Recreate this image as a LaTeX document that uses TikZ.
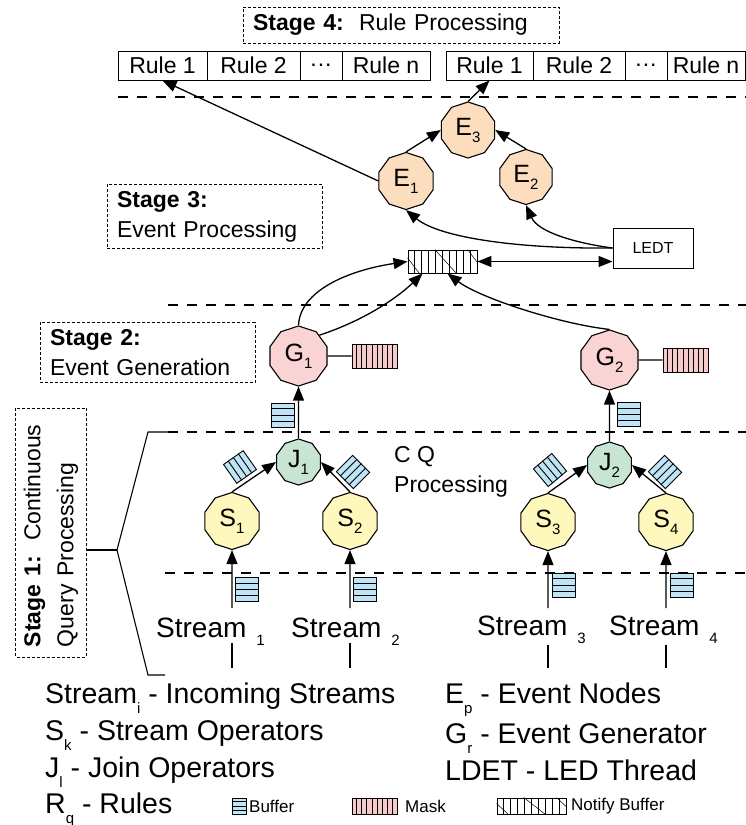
\documentclass[tikz,border=0pt]{standalone}
\usepackage{fontspec}
\setmainfont{Liberation Sans}
\usetikzlibrary{shapes.geometric,arrows.meta,calc}

\definecolor{evfill}{RGB}{252,222,190}
\definecolor{genfill}{RGB}{250,212,212}
\definecolor{joinfill}{RGB}{200,228,210}
\definecolor{strfill}{RGB}{255,248,188}
\definecolor{buffill}{RGB}{190,228,246}
\definecolor{maskfill}{RGB}{246,202,202}

\newcommand{\lowidx}[2][7pt]{\raisebox{-#1}{\fontsize{15pt}{15pt}\selectfont #2}}
\newcommand{\fsz}[2]{\fontsize{#1pt}{#2pt}\selectfont}

\tikzset{
	opnode/.style={regular polygon, regular polygon sides=10, regular polygon rotate=18, draw, line width=1.1pt, inner sep=0pt, minimum size=#1, font=\fsz{25}{25}},
	stagebox/.style={draw, dash pattern=on 3pt off 2pt, line width=1pt, align=left, inner xsep=10pt, inner ysep=7pt, font=\fsz{23}{30}},
	rulecell/.style={draw, line width=1pt, minimum height=29pt, inner sep=0pt, font=\fsz{23}{23}},
	sep/.style={dash pattern=on 10pt off 9pt, line width=1.1pt},
	flow/.style={->, line width=1.3pt},
	bufbox/.style={draw, fill=buffill, line width=0.9pt, minimum width=23pt, minimum height=24pt, inner sep=0pt},
	maskbox/.style={draw, fill=maskfill, line width=0.9pt, minimum width=45pt, minimum height=24pt, inner sep=0pt},
	notebox/.style={draw, line width=0.9pt, minimum width=69pt, minimum height=23pt, inner sep=0pt},
	lbl/.style={inner sep=0pt, anchor=base west},
}

\begin{document}
\begin{tikzpicture}[x=1pt, y=-1pt, >={Triangle[length=14pt, width=11pt]}]

	\useasboundingbox (0,0) rectangle (746,825);

	\node[stagebox, text width=296pt, minimum height=36pt] (st4) at (401,25) {\textbf{Stage 4:}\ \ Rule Processing};

	\node[rulecell, minimum width=89pt] (rl1) at (162.5,65.5) {Rule 1};
	\node[rulecell, minimum width=93pt] (rl2) at (253.5,65.5) {Rule 2};
	\node[rulecell, minimum width=42pt] (rl3) at (321,65.5) {.\kern1pt.\kern1pt.};
	\node[rulecell, minimum width=88pt] (rl4) at (386,65.5) {Rule n};
	\node[rulecell, minimum width=87pt] (rr1) at (489.5,65.5) {Rule 1};
	\node[rulecell, minimum width=92pt] (rr2) at (579,65.5) {Rule 2};
	\node[rulecell, minimum width=42pt] (rr3) at (646,65.5) {.\kern1pt.\kern1pt.};
	\node[rulecell, minimum width=78pt] (rr4) at (706,65.5) {Rule n};

	\draw[sep] (118,97) -- (746,97);
	\draw[sep] (168,305) -- (746,305);
	\draw[sep] (168,432) -- (746,432);
	\draw[sep] (165,573) -- (746,573);

	\node[stagebox, text width=195pt] (st3) at (214.5,216.5) {\textbf{Stage 3:}\\Event Processing};
	\node[stagebox, text width=195pt] (st2) at (147.5,352.5) {\textbf{Stage 2:}\\Event Generation};
	\node[stagebox, text width=229pt, rotate=90, inner ysep=8pt, font=\fsz{23}{33}] (st1) at (51,532.5) {\textbf{Stage 1:}\ \ Continuous\\Query Processing};

	\node[opnode=56pt, fill=evfill] (E3) at (468,130) {E\lowidx{3}};
	\node[opnode=57pt, fill=evfill] (E1) at (406,181) {E\lowidx{1}};
	\node[opnode=55pt, fill=evfill] (E2) at (526,177) {E\lowidx{2}};
	\node[opnode=60pt, fill=genfill] (G1) at (298.5,356) {G\lowidx{1}};
	\node[opnode=60pt, fill=genfill] (G2) at (609.5,360) {G\lowidx{2}};
	\node[opnode=46pt, fill=joinfill] (J1) at (298.5,462) {J\lowidx{1}};
	\node[opnode=46pt, fill=joinfill] (J2) at (609.5,465) {J\lowidx{2}};
	\node[opnode=57pt, fill=strfill] (S1) at (232,521) {S\lowidx{1}};
	\node[opnode=57pt, fill=strfill] (S2) at (350,521) {S\lowidx{2}};
	\node[opnode=57pt, fill=strfill] (S3) at (548,522) {S\lowidx{3}};
	\node[opnode=57pt, fill=strfill] (S4) at (666,522) {S\lowidx{4}};

	\node[draw, line width=1pt, minimum width=80pt, minimum height=40pt, font=\fsz{16}{16}] (ledt) at (653,248) {LEDT};
	\node[notebox] (nb) at (442.5,261.5) {};
	\node[maskbox] (mk1) at (374.5,356) {};
	\node[maskbox] (mk2) at (685.5,360) {};

	\node[bufbox] (bg1) at (282.5,415) {};
	\node[bufbox] (bg2) at (629,414.5) {};
	\node[bufbox, rotate=-55] (bj1) at (240,467) {};
	\node[bufbox, rotate=45] (bj2) at (353,472) {};
	\node[bufbox, rotate=-50] (bj3) at (550,470) {};
	\node[bufbox, rotate=45] (bj4) at (665,472) {};
	\node[bufbox] (bs1) at (247,589.5) {};
	\node[bufbox] (bs2) at (365,589.5) {};
	\node[bufbox] (bs3) at (563.5,585) {};
	\node[bufbox] (bs4) at (681.5,585) {};

	\node[bufbox, minimum width=14pt, minimum height=16pt] (lgb) at (239,806) {};
	\node[maskbox, minimum height=16pt] (lgm) at (374.5,806) {};
	\node[notebox, minimum height=16pt] (lgn) at (531.5,806) {};

	\foreach \b in {bg1,bg2,bj1,bj2,bj3,bj4,bs1,bs2,bs3,bs4,lgb}
		\foreach \f in {0.25,0.5,0.75}
			\draw[line width=0.9pt] ($(\b.north west)!\f!(\b.south west)$) -- ($(\b.north east)!\f!(\b.south east)$);
	\foreach \b in {mk1,mk2,lgm}
		\foreach \f in {1,...,8}
			\draw[line width=0.8pt] ($(\b.north west)!\f/9!(\b.north east)$) -- ($(\b.south west)!\f/9!(\b.south east)$);
	\foreach \b in {nb,lgn} {
		\foreach \f in {1,...,9}
			\draw[line width=0.8pt] ($(\b.north west)!\f/10!(\b.north east)$) -- ($(\b.south west)!\f/10!(\b.south east)$);
		\draw[line width=0.5pt] ($(\b.north west)!0.35!(\b.south west)$) -- ($(\b.south west)!0.17!(\b.south east)$);
		\draw[line width=0.5pt] ($(\b.north west)!0.39!(\b.north east)$) -- ($(\b.south west)!0.7!(\b.south east)$);
		\draw[line width=0.5pt] ($(\b.north west)!0.86!(\b.north east)$) -- ($(\b.north east)!0.55!(\b.south east)$);
	}

	\draw[flow] (E1.north) -- (E3.west);
	\draw[flow] (E2.north) -- (E3.east);
	\draw[flow] (E3.north) -- (rr1.south);
	\draw[flow] (E1.west) -- (rl1.south);
	\draw[flow] (ledt.west) .. controls (520,249) and (440,238) .. (E1.south);
	\draw[flow] (ledt.west) .. controls (575,243) and (538,232) .. (E2.south);
	\draw[flow, <->] (nb.east) -- (nb.east -| ledt.west);
	\draw[flow] (G1.north) .. controls (300,290) and (350,270) .. (nb.west);
	\draw[flow] (G1.north east) .. controls (360,322) and (395,300) .. ([xshift=-20pt]nb.south);
	\draw[flow] (G2.north) .. controls (560,324) and (480,298) .. ([xshift=5pt]nb.south);
	\draw[line width=1.1pt] (G1.east) -- (mk1.west);
	\draw[line width=1.1pt] (G2.east) -- (mk2.west);
	\draw[flow] (J1) -- (G1);
	\draw[flow] (J2) -- (G2);
	\draw[flow] (S1.north) -- (J1.west);
	\draw[flow] (S2.north) -- (J1.east);
	\draw[flow] (S3.north) -- (J2.west);
	\draw[flow] (S4.north) -- (J2.east);

	\node[align=left, anchor=west, inner sep=0pt, font=\fsz{23}{30}] (cq) at (394,472) {C Q\\Processing};

	\node[lbl, font=\fsz{28}{28}] (sm1) at (156,637) {Stream\hspace{10pt}\lowidx[8pt]{1}};
	\node[lbl, font=\fsz{28}{28}] (sm2) at (291,637) {Stream\hspace{10pt}\lowidx[8pt]{2}};
	\node[lbl, font=\fsz{28}{28}] (sm3) at (477,635) {Stream\hspace{10pt}\lowidx[8pt]{3}};
	\node[lbl, font=\fsz{28}{28}] (sm4) at (609,635) {Stream\hspace{10pt}\lowidx[8pt]{4}};

	\coordinate (in1) at (232,608);
	\coordinate (in2) at (350,608);
	\coordinate (in3) at (548,608);
	\coordinate (in4) at (666,608);
	\draw[flow] (in1) -- (S1);
	\draw[flow] (in2) -- (S2);
	\draw[flow] (in3) -- (S3);
	\draw[flow] (in4) -- (S4);
	\draw[line width=1.1pt] (232,643) -- (232,668);
	\draw[line width=1.1pt] (350,643) -- (350,668);
	\draw[line width=1.1pt] (548,645) -- (548,668);
	\draw[line width=1.1pt] (666,645) -- (666,668);

	\coordinate (brk) at (117,550);
	\draw[line width=1.1pt] (175,432) -- (148,432) -- (brk) -- (148,675) -- (165,675);
	\draw[line width=1.6pt] (brk -| st1.south) -- (brk);

	\node[lbl, font=\fsz{28.5}{28.5}] (lg1) at (45,703) {Stream\lowidx[10pt]{i} - Incoming Streams};
	\node[lbl, font=\fsz{28.5}{28.5}] (lg2) at (45,740) {S\lowidx[10pt]{k} - Stream Operators};
	\node[lbl, font=\fsz{28.5}{28.5}] (lg3) at (45,777) {J\lowidx[10pt]{l} - Join Operators};
	\node[lbl, font=\fsz{28.5}{28.5}] (lg4) at (45,813) {R\lowidx[10pt]{q} - Rules};
	\node[lbl, font=\fsz{28.5}{28.5}] (lg5) at (445,703) {E\lowidx[10pt]{p} - Event Nodes};
	\node[lbl, font=\fsz{28.5}{28.5}] (lg6) at (445,743) {G\lowidx[10pt]{r} - Event Generator};
	\node[lbl, font=\fsz{28.5}{28.5}] (lg7) at (445,780) {LDET - LED Thread};
	\node[anchor=west, inner sep=0pt, font=\fsz{17}{17}] (lgbt) at (249,806) {Buffer};
	\node[anchor=west, inner sep=0pt, font=\fsz{17}{17}] (lgmt) at (405,806) {Mask};
	\node[anchor=west, inner sep=0pt, font=\fsz{17}{17}] (lgnt) at (571,806) {Notify Buffer};

\end{tikzpicture}
\end{document}
